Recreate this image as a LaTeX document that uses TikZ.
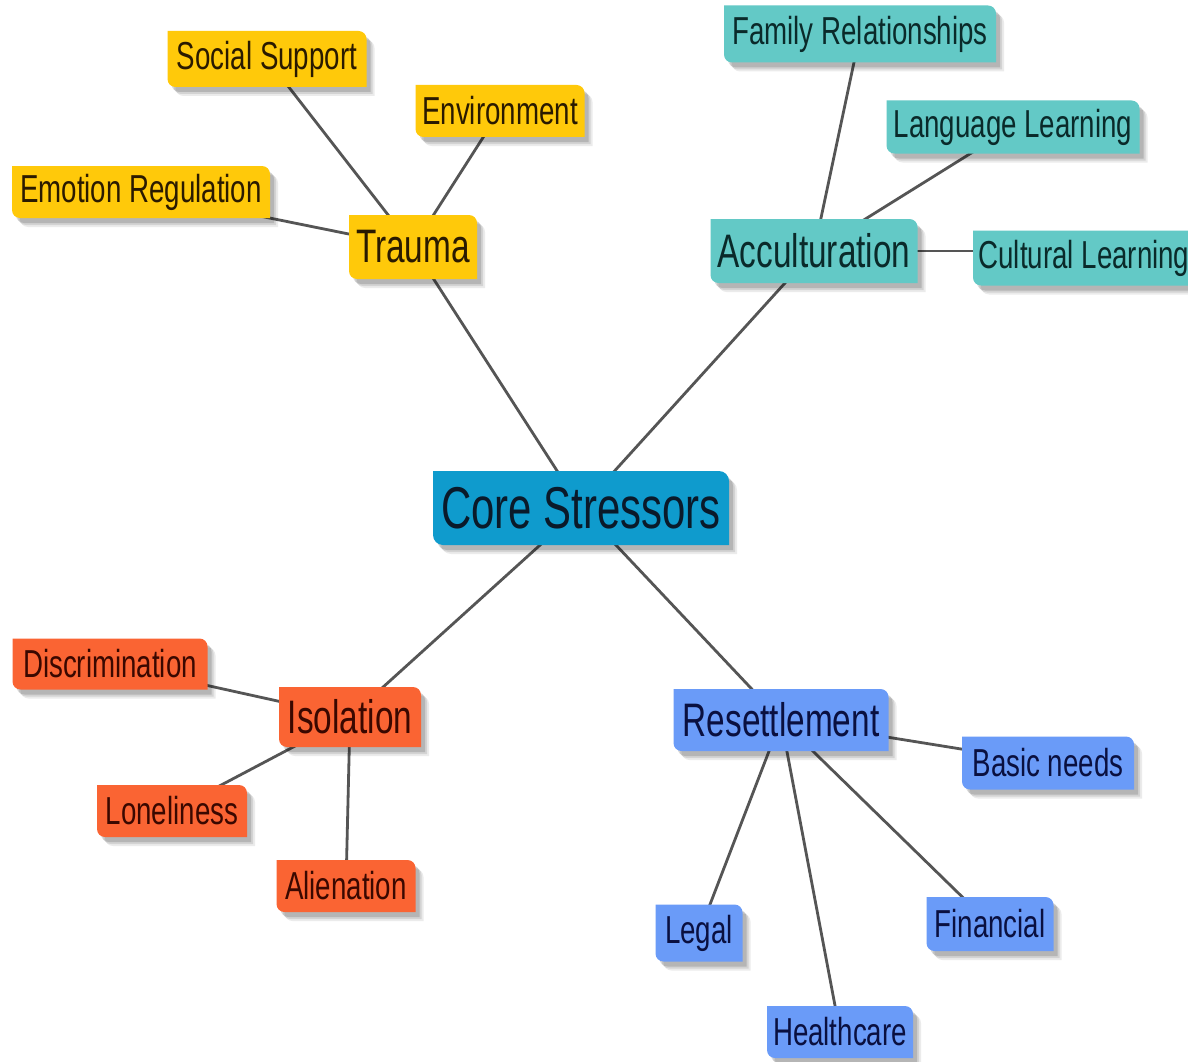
\documentclass[tikz,border=0pt]{standalone}
\usepackage{fontspec}
\setmainfont{Liberation Sans}[FakeStretch=0.71]
\pgfdeclarelayer{bg}
\pgfdeclarelayer{lines}
\pgfdeclarelayer{boxes}
\pgfsetlayers{bg,lines,boxes,main}
\definecolor{coreblue}{HTML}{0F9BCD}
\definecolor{ylw}{HTML}{FFC90A}
\definecolor{teal}{HTML}{63C9C6}
\definecolor{orng}{HTML}{FA6433}
\definecolor{blu}{HTML}{6A9BF8}
\definecolor{ytext}{HTML}{2A1A00}
\definecolor{ttext}{HTML}{0A2A2A}
\definecolor{otext}{HTML}{3A0800}
\definecolor{btext}{HTML}{0A1040}
\definecolor{ctext}{HTML}{0A1A2A}
\definecolor{linecol}{HTML}{555555}
\newcommand\mmfill[5]{\fill[#1] ([shift={(#4,#5)}]#2.north west) -- ([shift={(#4-#3,#5)}]#2.north east) arc[start angle=90,end angle=0,radius=#3] -- ([shift={(#4,#5)}]#2.south east) -- ([shift={(#4+#3,#5)}]#2.south west) arc[start angle=270,end angle=180,radius=#3] -- cycle;}
\newcommand\mmbox[3]{%
 \mmfill{black,opacity=0.08}{#1}{#2}{8pt}{-9pt}
 \mmfill{black,opacity=0.10}{#1}{#2}{6pt}{-7pt}
 \mmfill{black,opacity=0.14}{#1}{#2}{4pt}{-5pt}
 \mmfill{#3}{#1}{#2}{0pt}{0pt}}
\tikzset{
 mm/.style={inner sep=0pt, outer sep=0pt, align=center},
 corefont/.style={mm, font=\fontsize{59}{62}\selectfont},
 lvlone/.style={mm, font=\fontsize{47}{50}\selectfont},
 lvltwo/.style={mm, font=\fontsize{39}{42}\selectfont},
 conn/.style={draw=linecol, line width=2.8pt},
 sz/.style 2 args={minimum width=#1pt, minimum height=#2pt}
}
\begin{document}
\begin{tikzpicture}[x=1pt,y=-1pt]
\begin{pgfonlayer}{bg}
\fill[white] (0,0) rectangle (1188,1062);
\end{pgfonlayer}
\useasboundingbox (0,0) rectangle (1188,1062);
% nodes
\node[corefont, sz={296}{74}, text=ctext] (core) at (581,508) {Core Stressors};
\node[lvlone, sz={128}{64}, text=ytext] (trauma) at (413,247) {Trauma};
\node[lvltwo, sz={199}{56}, text=ytext] (social) at (267,59) {Social Support};
\node[lvltwo, sz={169}{52}, text=ytext] (env) at (500,111) {Environment};
\node[lvltwo, sz={258}{52}, text=ytext] (emo) at (141,192) {Emotion Regulation};
\node[lvlone, sz={207}{64}, text=ttext] (accult) at (814,251) {Acculturation};
\node[lvltwo, sz={272}{57}, text=ttext] (family) at (860,34) {Family Relationships};
\node[lvltwo, sz={253}{53}, text=ttext] (lang) at (1013,127) {Language Learning};
\node[lvltwo, sz={222}{55}, text=ttext] (cult) at (1084,258) {Cultural Learning};
\node[lvlone, sz={142}{60}, text=otext] (isol) at (350,717) {Isolation};
\node[lvltwo, sz={195}{51}, text=otext] (discr) at (110,664) {Discrimination};
\node[lvltwo, sz={150}{52}, text=otext] (lonely) at (172,811) {Loneliness};
\node[lvltwo, sz={139}{52}, text=otext] (alien) at (346,886) {Alienation};
\node[lvlone, sz={215}{62}, text=btext] (reset) at (781,720) {Resettlement};
\node[lvltwo, sz={172}{53}, text=btext] (basic) at (1048,763) {Basic needs};
\node[lvltwo, sz={87}{57}, text=btext] (legal) at (699,933) {Legal};
\node[lvltwo, sz={146}{52}, text=btext] (health) at (840,1032) {Healthcare};
\node[lvltwo, sz={127}{54}, text=btext] (fin) at (990,924) {Financial};
% boxes
\begin{pgfonlayer}{boxes}
\mmbox{core}{10pt}{coreblue}
\mmbox{trauma}{8pt}{ylw}
\mmbox{social}{8pt}{ylw}
\mmbox{env}{8pt}{ylw}
\mmbox{emo}{8pt}{ylw}
\mmbox{accult}{8pt}{teal}
\mmbox{family}{8pt}{teal}
\mmbox{lang}{8pt}{teal}
\mmbox{cult}{8pt}{teal}
\mmbox{isol}{8pt}{orng}
\mmbox{discr}{8pt}{orng}
\mmbox{lonely}{8pt}{orng}
\mmbox{alien}{8pt}{orng}
\mmbox{reset}{8pt}{blu}
\mmbox{basic}{8pt}{blu}
\mmbox{legal}{8pt}{blu}
\mmbox{health}{8pt}{blu}
\mmbox{fin}{8pt}{blu}
\end{pgfonlayer}
% connectors
\begin{pgfonlayer}{lines}
\draw[conn] (core.center) -- (trauma.center);
\draw[conn] (core.center) -- (accult.center);
\draw[conn] (core.center) -- (isol.center);
\draw[conn] (core.center) -- (reset.center);
\draw[conn] (trauma.center) -- (social.center);
\draw[conn] (trauma.center) -- (env.center);
\draw[conn] (trauma.center) -- (emo.center);
\draw[conn] (accult.center) -- (family.center);
\draw[conn] (accult.center) -- (lang.center);
\draw[conn] (accult.center) -- (cult.center |- accult.center);
\draw[conn] (isol.center) -- (discr.center);
\draw[conn] (isol.center) -- (lonely.center);
\draw[conn] (isol.center) -- (alien.center);
\draw[conn] (reset.center) -- (basic.center);
\draw[conn] (reset.center) -- (legal.center);
\draw[conn] (reset.center) -- (health.center);
\draw[conn] (reset.center) -- (fin.center);
\end{pgfonlayer}
\end{tikzpicture}
\end{document}
